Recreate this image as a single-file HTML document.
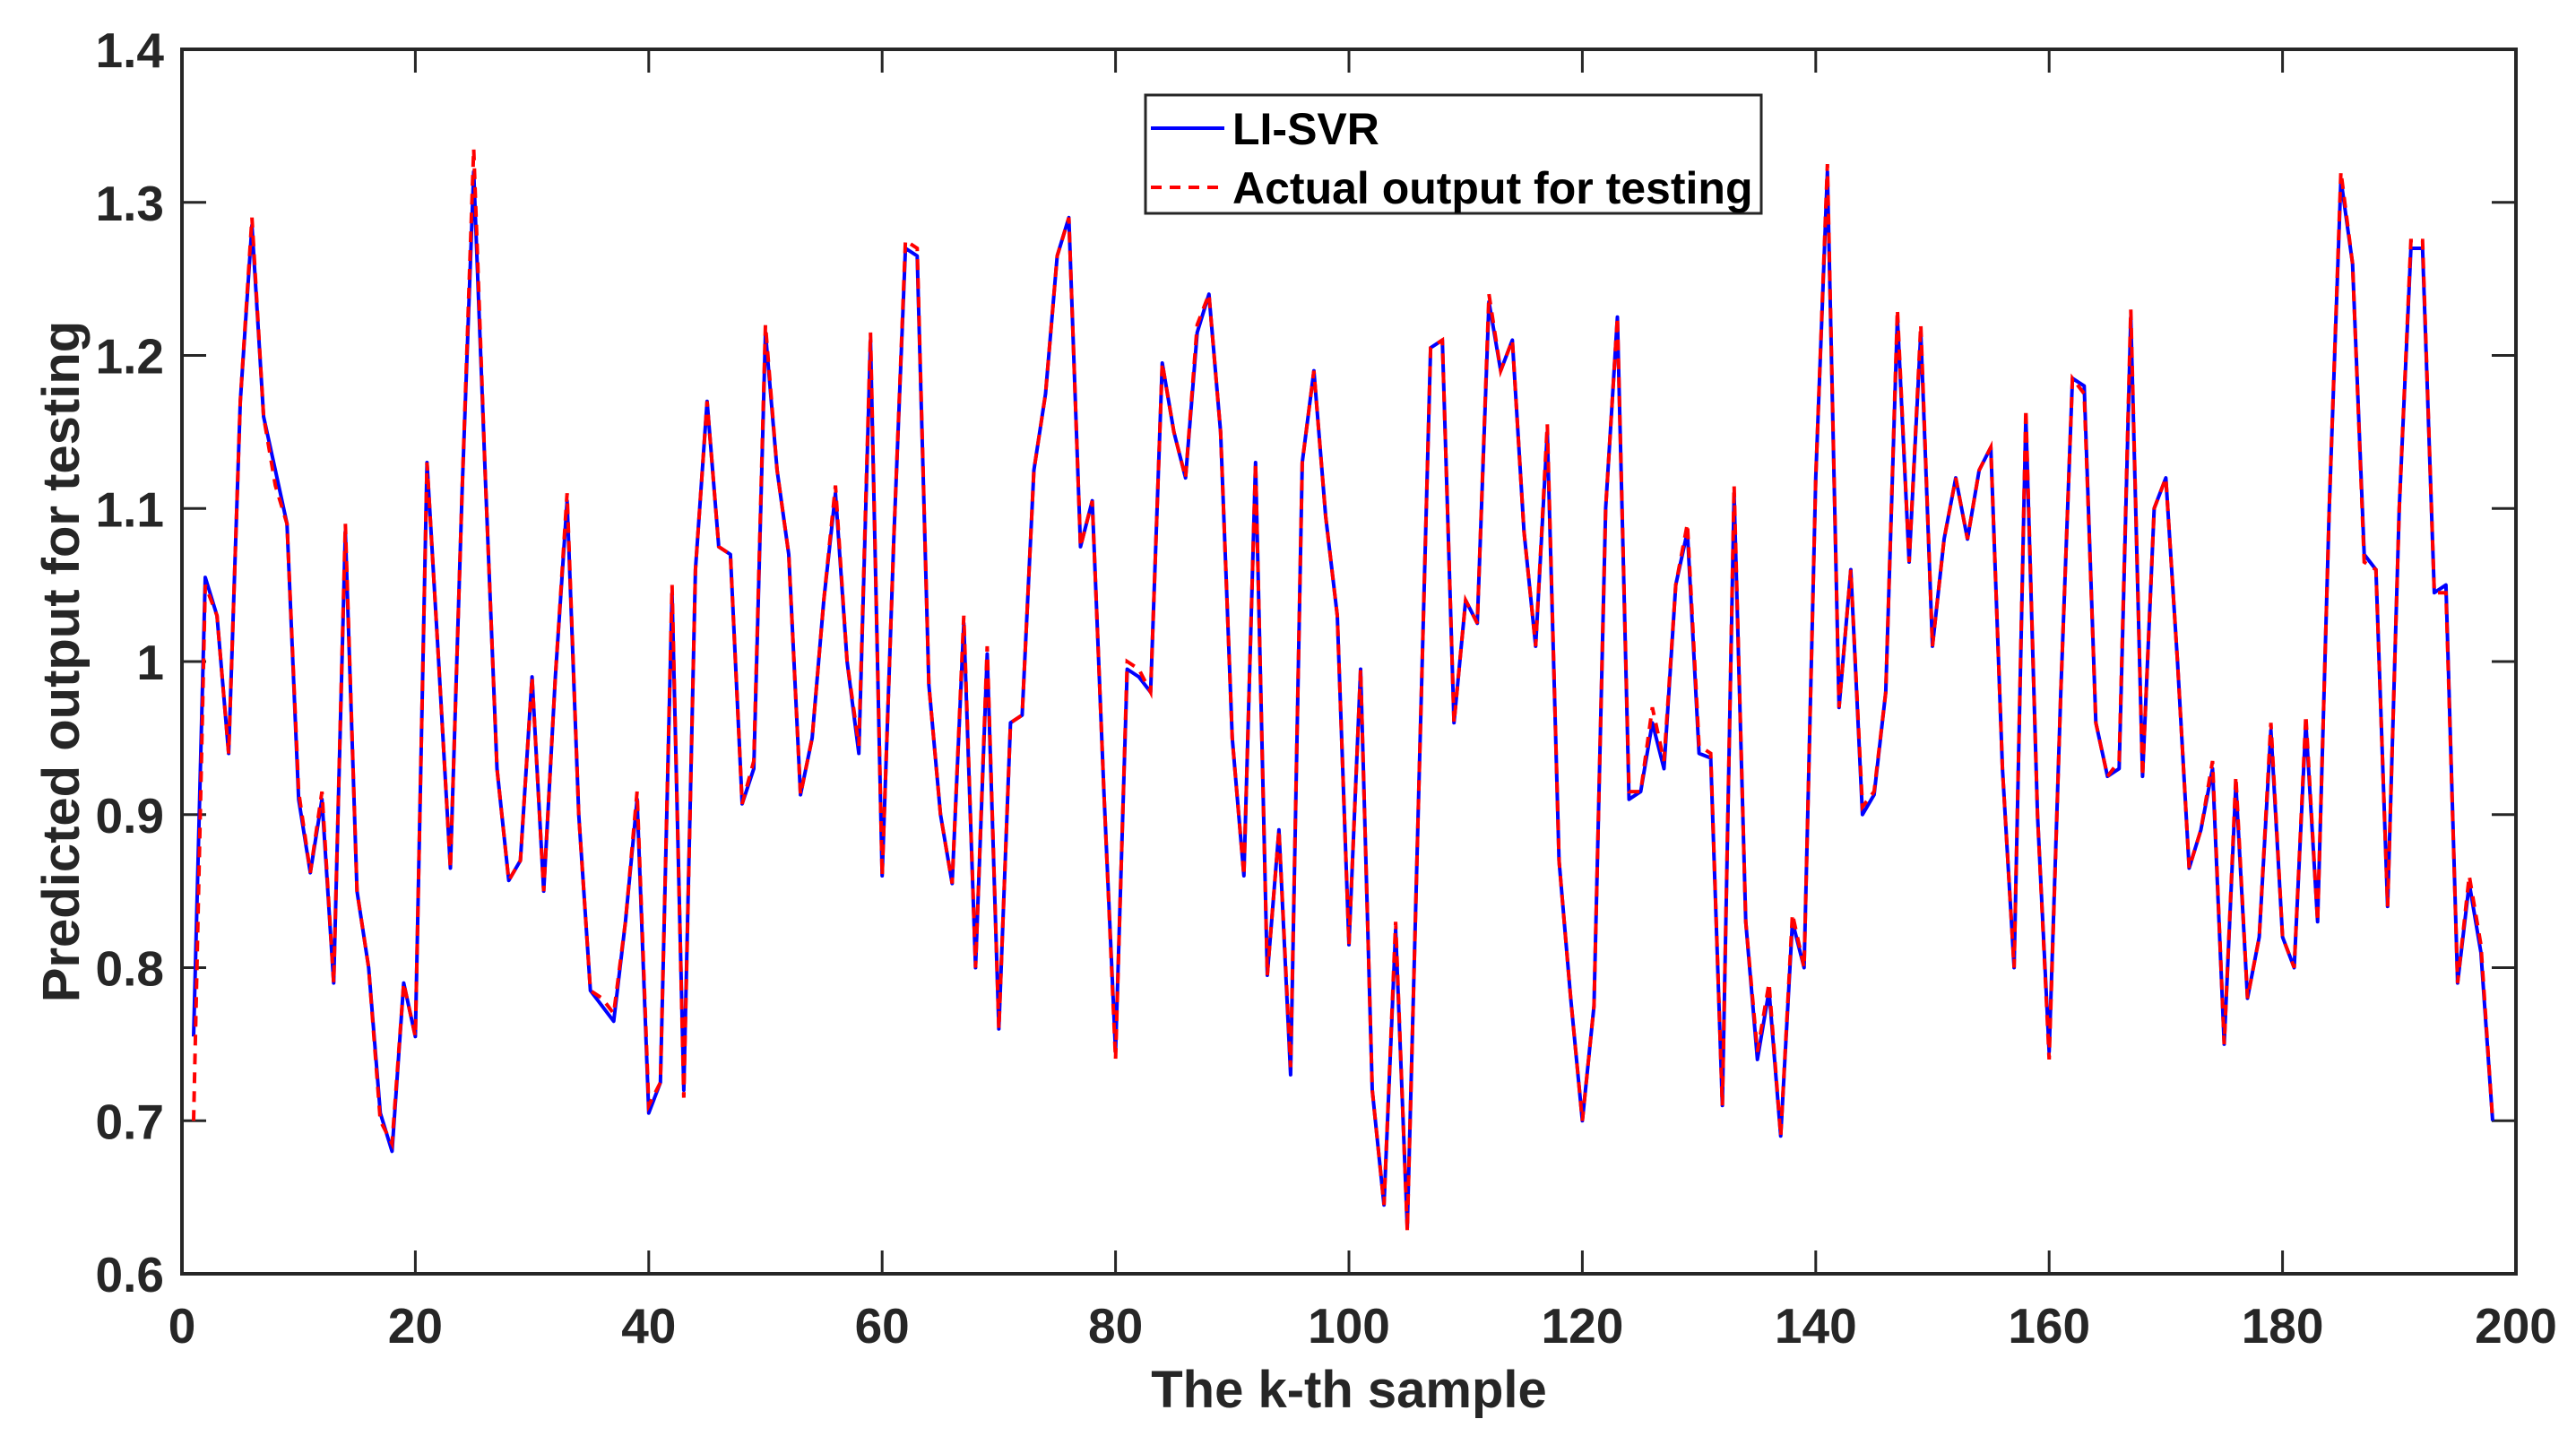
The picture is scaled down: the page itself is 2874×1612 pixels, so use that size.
<!DOCTYPE html>
<html><head><meta charset="utf-8"><style>
html,body{margin:0;padding:0;background:#fff;}
svg{display:block;font-family:"Liberation Sans",Arial,sans-serif;}
</style></head><body>
<svg id="chart" width="2874" height="1612" viewBox="0 0 2874 1612" xmlns="http://www.w3.org/2000/svg">
<rect x="0" y="0" width="2874" height="1612" fill="#fff"/>
<g id="grid"></g>
<g id="series"></g>
<rect x="203" y="55" width="2604" height="1366" fill="none" stroke="#262626" stroke-width="4"/>
<g>
<rect x="1278" y="106" width="687" height="132" fill="#fff" stroke="#262626" stroke-width="3"/>
<line x1="1284" y1="143" x2="1366" y2="143" stroke="#0000ff" stroke-width="4"/>
<text x="1375" y="161" font-size="50" font-weight="bold" fill="#000">LI-SVR</text>
<line x1="1284" y1="209" x2="1366" y2="209" stroke="#ff0000" stroke-width="4" stroke-dasharray="12,9"/>
<text x="1375" y="227" font-size="50" font-weight="bold" fill="#000">Actual output for testing</text>
</g>
<text x="1505" y="1570" font-size="58" font-weight="bold" fill="#262626" text-anchor="middle">The k-th sample</text>
<text x="0" y="0" font-size="58" font-weight="bold" fill="#262626" text-anchor="middle" transform="translate(88,738) rotate(-90)">Predicted output for testing</text>
</svg>
<script>
const pred = [0.755,1.055,1.03,0.94,1.17,1.285,1.16,1.125,1.09,0.91,0.862,0.91,0.79,1.085,0.85,0.80,0.705,0.68,0.79,0.755,
1.13,1.00,0.865,1.11,1.32,1.12,0.93,0.857,0.87,0.99,0.85,0.99,1.105,0.90,0.785,0.775,0.765,0.83,0.91,0.705,
0.725,1.045,0.72,1.06,1.17,1.075,1.07,0.907,0.93,1.215,1.125,1.07,0.913,0.95,1.04,1.11,1.00,0.94,1.21,0.86,
1.08,1.27,1.265,0.985,0.90,0.855,1.025,0.80,1.005,0.76,0.96,0.965,1.125,1.175,1.265,1.29,1.075,1.105,0.915,0.745,
0.995,0.99,0.98,1.195,1.15,1.12,1.215,1.24,1.15,0.95,0.86,1.13,0.795,0.89,0.73,1.13,1.19,1.095,1.03,0.815,
0.995,0.72,0.645,0.825,0.63,0.92,1.205,1.21,0.96,1.04,1.025,1.235,1.19,1.21,1.085,1.01,1.15,0.87,0.78,0.70,
0.775,1.10,1.225,0.91,0.915,0.96,0.93,1.05,1.085,0.94,0.937,0.71,1.11,0.83,0.74,0.785,0.69,0.83,0.80,1.12,
1.32,0.97,1.06,0.90,0.913,0.98,1.225,1.065,1.215,1.01,1.08,1.12,1.08,1.125,1.14,0.93,0.80,1.16,0.90,0.745,
0.98,1.185,1.18,0.96,0.925,0.93,1.225,0.925,1.10,1.12,1.00,0.865,0.89,0.93,0.75,0.92,0.78,0.82,0.955,0.82,
0.80,0.96,0.83,1.10,1.315,1.26,1.07,1.06,0.84,1.10,1.27,1.27,1.045,1.05,0.79,0.855,0.81,0.70];
const actual = [0.70,1.05,1.03,0.94,1.17,1.29,1.16,1.115,1.09,0.915,0.862,0.915,0.79,1.09,0.85,0.80,0.70,0.685,0.79,0.755,
1.13,1.00,0.865,1.11,1.335,1.12,0.93,0.857,0.87,0.99,0.85,0.99,1.11,0.90,0.785,0.78,0.77,0.83,0.915,0.71,
0.725,1.05,0.715,1.06,1.17,1.075,1.07,0.907,0.935,1.22,1.125,1.07,0.913,0.95,1.04,1.115,1.00,0.945,1.215,0.86,
1.08,1.275,1.27,0.985,0.90,0.855,1.03,0.80,1.01,0.76,0.96,0.965,1.125,1.175,1.265,1.29,1.075,1.105,0.915,0.74,
1.00,0.995,0.98,1.195,1.15,1.12,1.22,1.24,1.15,0.95,0.86,1.13,0.795,0.89,0.735,1.13,1.19,1.095,1.03,0.815,
0.995,0.72,0.645,0.83,0.628,0.92,1.205,1.21,0.96,1.04,1.025,1.24,1.19,1.21,1.085,1.01,1.155,0.87,0.78,0.70,
0.775,1.10,1.225,0.915,0.915,0.97,0.935,1.05,1.09,0.945,0.94,0.71,1.115,0.83,0.745,0.79,0.69,0.835,0.80,1.12,
1.325,0.97,1.06,0.905,0.915,0.98,1.23,1.065,1.22,1.01,1.08,1.12,1.08,1.125,1.14,0.93,0.80,1.165,0.90,0.74,
0.98,1.185,1.175,0.96,0.925,0.935,1.23,0.925,1.10,1.12,1.00,0.865,0.89,0.935,0.75,0.925,0.78,0.82,0.96,0.82,
0.80,0.965,0.83,1.10,1.32,1.26,1.065,1.06,0.84,1.10,1.275,1.275,1.045,1.045,0.79,0.86,0.815,0.70];
const xTicks = [0,20,40,60,80,100,120,140,160,180,200];
const yTicks = [0.6,0.7,0.8,0.9,1.0,1.1,1.2,1.3,1.4];
const yTickLabels = ["0.6","0.7","0.8","0.9","1","1.1","1.2","1.3","1.4"];

const L=203,R=2807,T=55,B=1421;
const xs = v => L + (v-0)/(200-0)*(R-L);
const ys = v => B - (v-0.6)/(1.4-0.6)*(B-T);
const NS="http://www.w3.org/2000/svg";
const grid=document.getElementById('grid');
const ser=document.getElementById('series');
function mk(tag,attrs,parent){const e=document.createElementNS(NS,tag);for(const k in attrs)e.setAttribute(k,attrs[k]);parent.appendChild(e);return e;}

xTicks.forEach((t,i)=>{
  const x=xs(t);
  const ln=mk('line',{x1:x,y1:B,x2:x,y2:B-26,stroke:'#262626','stroke-width':3},grid);
  
  
  const ln2=mk('line',{x1:x,y1:T,x2:x,y2:T+26,stroke:'#262626','stroke-width':3},grid);
  
  
  const tx=mk('text',{x:x,y:B+77,'font-size':55,'font-weight':'bold',fill:'#262626','text-anchor':'middle'},grid);
  tx.textContent=String(t);
  
  
});
yTicks.forEach((t,i)=>{
  const y=ys(t);
  const ln=mk('line',{x1:L,y1:y,x2:L+27,y2:y,stroke:'#262626','stroke-width':3},grid);
  
  
  const ln2=mk('line',{x1:R,y1:y,x2:R-27,y2:y,stroke:'#262626','stroke-width':3},grid);
  
  
  const tx=mk('text',{x:183,y:y+20,'font-size':55,'font-weight':'bold',fill:'#262626','text-anchor':'end'},grid);
  tx.textContent=yTickLabels[i];
  
  
});
function pts(arr){return arr.map((v,i)=>xs(i+1).toFixed(1)+','+ys(v).toFixed(1)).join(' ');}
const p1=mk('polyline',{points:pts(pred),fill:'none',stroke:'#0000ff','stroke-width':4,'stroke-linejoin':'round'},ser);


const p2=mk('polyline',{points:pts(actual),fill:'none',stroke:'#ff0000','stroke-width':4,'stroke-dasharray':'12,9'},ser);


</script>
</body></html>
